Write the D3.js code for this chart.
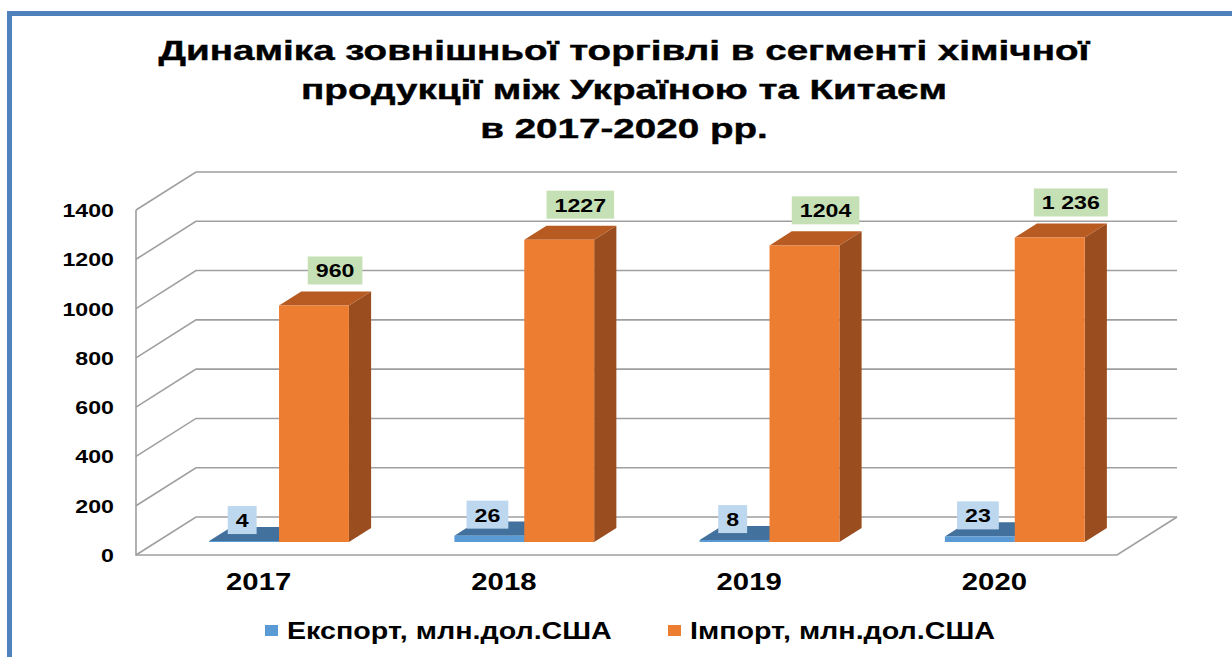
<!DOCTYPE html>
<html>
<head>
<meta charset="utf-8">
<script src="https://d3js.org/d3.v7.min.js"></script>
<style>
    body { margin: 0; background: #fff; overflow: hidden; }
    text {
        font-family: "Liberation Sans", Arial, sans-serif;
        font-weight: bold;
        fill: #000;
    }
    .title text {
        stroke: #000;
        stroke-width: 0.4px;
    }
</style>
</head>
<body>
<script>
    var years = ["2017", "2018", "2019", "2020"];
    var exportVals = [4, 26, 8, 23];
    var importVals = [960, 1227, 1204, 1236];
    var exportLabels = ["4", "26", "8", "23"];
    var importLabels = ["960", "1227", "1204", "1 236"];
    var seriesNames = ["Експорт, млн.дол.США", "Імпорт, млн.дол.США"];
    var yTicks = [0, 200, 400, 600, 800, 1000, 1200, 1400];
    var titleLines = [
        "Динаміка зовнішньої торгівлі в сегменті хімічної",
        "продукції між Україною та Китаєм",
        "в 2017-2020 рр."
    ];

    var width = 1232, height = 657;
    var sx = 1.22; // picture is stretched sideways

    var svg = d3.select("body").append("svg")
        .attr("width", width)
        .attr("height", height);

    // frame
    svg.append("rect")
        .attr("x", 9.5).attr("y", 13.5)
        .attr("width", 1300).attr("height", 700)
        .attr("fill", "none")
        .attr("stroke", "#4f81bd")
        .attr("stroke-width", 5);

    function stretchText(g, px, py, str, size, anchor, k) {
        return g.append("text")
            .attr("transform", "translate(" + px + "," + py + ") scale(" + (k || sx) + ",1)")
            .attr("text-anchor", anchor || "middle")
            .style("font-size", size + "px")
            .text(str);
    }

    // title
    var titleG = svg.append("g").attr("class", "title");
    titleLines.forEach(function(t, i) {
        stretchText(titleG, 624, 60 + i * 39, t, 27, "middle", 1.43);
    });

    var depthX = 60, depthY = -38;
    var d0 = 0.34, d1 = 0.71;

    var x = d3.scaleBand()
        .domain(years)
        .range([136, 1117])
        .paddingInner(0.43)
        .paddingOuter(0.215);

    var xs = d3.scaleBand()
        .domain([0, 1])
        .range([0, x.bandwidth()]);

    var y = d3.scaleLinear()
        .domain([0, 1400])
        .range([555, 210]);

    var x0 = x.range()[0], x1 = x.range()[1];

    function proj(px, v, d) {
        return [px + d * depthX, y(v) + d * depthY];
    }

    var line = d3.line();

    // grid: left wall + back wall
    var grid = svg.append("g").attr("class", "grid");
    grid.selectAll("path")
        .data(yTicks)
        .enter().append("path")
        .attr("d", function(t) {
            return line([proj(x0, t, 0), proj(x0, t, 1), proj(x1, t, 1)]);
        })
        .attr("fill", "none")
        .attr("stroke", "#9f9f9f")
        .attr("stroke-width", 1.6);

    // left axis and floor front edge
    grid.append("path")
        .attr("d", line([proj(x0, 1400, 0), proj(x0, 0, 0), proj(x1, 0, 0), proj(x1, 0, 1)]))
        .attr("fill", "none")
        .attr("stroke", "#9f9f9f")
        .attr("stroke-width", 1.6);

    // y tick labels
    svg.append("g").selectAll("text")
        .data(yTicks)
        .enter().append("text")
        .attr("transform", function(t) {
            return "translate(114," + (y(t) + 7) + ") scale(" + sx + ",1)";
        })
        .attr("text-anchor", "end")
        .style("font-size", "19px")
        .text(function(t) { return t; });

    // year labels
    years.forEach(function(yr) {
        stretchText(svg, x(yr) + x.bandwidth() / 2, 590, yr, 24);
    });

    var colours = [
        {front: "#5b9bd5", top: "#41719c", side: "#3a6690", label: "#bdd7ee"},
        {front: "#ed7d31", top: "#b75b22", side: "#9a4e1f", label: "#c5e0b4"}
    ];

    function drawBar(g, px, w, v, c) {
        var side = [proj(px + w, 0, d0), proj(px + w, 0, d1), proj(px + w, v, d1), proj(px + w, v, d0)];
        var top = [proj(px, v, d0), proj(px + w, v, d0), proj(px + w, v, d1), proj(px, v, d1)];
        var front = [proj(px, 0, d0), proj(px + w, 0, d0), proj(px + w, v, d0), proj(px, v, d0)];
        g.append("path").attr("d", line(side) + "Z").attr("fill", c.side);
        g.append("path").attr("d", line(top) + "Z").attr("fill", c.top);
        g.append("path").attr("d", line(front) + "Z").attr("fill", c.front);
    }

    var bars = svg.append("g").attr("class", "bars");
    var labelLayer = svg.append("g").attr("class", "labels");

    function drawLabel(cx, cy, str, fill) {
        var g = labelLayer.append("g");
        var rect = g.append("rect").attr("fill", fill);
        var t = stretchText(g, cx, cy + 7, str, 19);
        var tw = t.node().getComputedTextLength() * sx;
        rect.attr("x", cx - tw / 2 - 8)
            .attr("y", cy - 14)
            .attr("width", tw + 16)
            .attr("height", 28);
    }

    years.forEach(function(yr, i) {
        var vals = [exportVals[i], importVals[i]];
        var labels = [exportLabels[i], importLabels[i]];
        vals.forEach(function(v, s) {
            var px = x(yr) + xs(s);
            var w = xs.bandwidth();
            drawBar(bars, px, w, v, colours[s]);
            var mid = proj(px + w / 2, v, (d0 + d1) / 2);
            if (s === 0) {
                drawLabel(mid[0] - 13, mid[1] - 14, labels[s], colours[s].label);
            } else {
                drawLabel(mid[0] + 10, mid[1] - 28, labels[s], colours[s].label);
            }
        });
    });

    // legend
    var legendX = [265, 668];
    var legend = svg.append("g").attr("class", "legend");
    seriesNames.forEach(function(name, i) {
        legend.append("rect")
            .attr("x", legendX[i]).attr("y", 625)
            .attr("width", 13).attr("height", 11)
            .attr("fill", colours[i].front);
        stretchText(legend, legendX[i] + 22, 639, name, 23.5, "start");
    });
</script>
</body>
</html>
